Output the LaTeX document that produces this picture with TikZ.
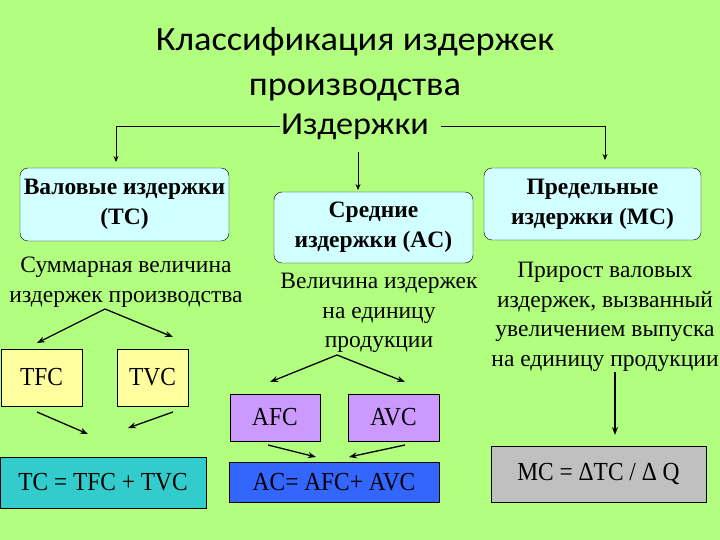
\documentclass[tikz,border=0pt]{standalone}
\usepackage{fontspec}
\setmainfont{Liberation Serif}
\newfontfamily\headfont[FakeStretch=1.07]{Carlito}
\newfontfamily\narrowserif[FakeStretch=0.9]{Liberation Serif}
\usetikzlibrary{arrows.meta}

\definecolor{bggreen}{RGB}{178,255,128}
\definecolor{kindcyan}{RGB}{210,255,255}
\definecolor{partyellow}{RGB}{255,255,160}
\definecolor{partviolet}{RGB}{204,153,255}
\definecolor{sumteal}{RGB}{51,204,204}
\definecolor{sumblue}{RGB}{51,102,255}
\definecolor{sumgray}{RGB}{192,192,192}

\tikzset{
    kindbox/.style={draw, rounded corners=8pt, fill=kindcyan, align=center,
        font=\bfseries\fontsize{23.5}{30}\selectfont, inner sep=0pt},
    descr/.style={align=center, font=\fontsize{23.5}{29.5}\selectfont, inner sep=0pt},
    partbox/.style={draw, align=center, font=\narrowserif\fontsize{26}{30}\selectfont, inner sep=0pt},
    feed/.style={-{Stealth[length=8pt,width=6pt]}, line width=1.3pt},
    branch/.style={-{Stealth[length=6pt,width=5pt]}, line width=0.8pt}
}

\begin{document}
\begin{tikzpicture}[x=1pt, y=-1pt]

    % Background
    \fill[bggreen] (0,0) rectangle (720,540);
    \useasboundingbox (0,0) rectangle (720,540);

    % Title
    \node[align=center, font=\headfont\fontsize{34}{45}\selectfont] (title) at (355,64)
      {Классификация издержек\\производства};
    \node[font=\headfont\fontsize{32}{36}\selectfont, inner sep=0pt] (costs) at (355,127) {Издержки};

    % Three kinds of costs
    \node[kindbox, minimum width=209pt, minimum height=73pt] (total) at (124.5,204.5)
      {Валовые издержки\\(TC)};
    \node[kindbox, minimum width=199pt, minimum height=71pt] (avg) at (373.5,227.5)
      {Средние\\издержки (AC)};
    \node[kindbox, minimum width=217pt, minimum height=72pt] (marg) at (592.5,204)
      {Предельные\\издержки (MC)};

    % Branches from the heading
    \coordinate (totaltop) at (116,162);
    \coordinate (costsout) at (358,152);
    \coordinate (avgtop) at (358,190);
    \coordinate (margtop) at (605,160);
    \draw[branch] ([xshift=-1pt,yshift=1pt]costs.west) -| (totaltop);
    \draw[branch] ([xshift=12pt,yshift=1pt]costs.east) -| (margtop);
    \draw[branch] (costsout) -- (avgtop);

    % Descriptions
    \node[descr] (totaldescr) at (126,282) {Суммарная величина\\издержек производства};
    \node[descr] (avgdescr) at (379,313) {Величина издержек\\на единицу\\продукции};
    \node[descr] (margdescr) at (605,317)
      {Прирост валовых\\издержек, вызванный\\увеличением выпуска\\на единицу продукции};

    % Parts of total costs
    \node[partbox, fill=partyellow, minimum width=81pt, minimum height=57pt] (tfc) at (41.5,377.5) {TFC};
    \node[partbox, fill=partyellow, minimum width=71pt, minimum height=57pt] (tvc) at (152.5,377.5) {TVC};
    \node[partbox, fill=sumteal, minimum width=206pt, minimum height=51pt] (tc) at (103,482.5)
      {TC = TFC + TVC};

    \coordinate (totalsplit) at (105,309);
    \coordinate (tfcin) at (37,343);
    \coordinate (tvcin) at (173,337);
    \coordinate (tfcout) at (37,412);
    \coordinate (tvcout) at (173,412);
    \coordinate (tcleft) at (88,434);
    \coordinate (tcright) at (128,428);
    \draw[feed] (totalsplit) -- (tfcin);
    \draw[feed] (totalsplit) -- (tvcin);
    \draw[feed] (tfcout) -- (tcleft);
    \draw[feed] (tvcout) -- (tcright);

    % Parts of average costs
    \node[partbox, fill=partviolet, minimum width=90pt, minimum height=47pt] (afc) at (275,417.5) {AFC};
    \node[partbox, fill=partviolet, minimum width=91pt, minimum height=47pt] (avc) at (393.5,417.5) {AVC};
    \node[partbox, fill=sumblue, minimum width=210pt, minimum height=40pt] (ac) at (334,482)
      {AC= AFC+ AVC};

    \coordinate (avgsplit) at (337,355);
    \coordinate (afcin) at (270,382);
    \coordinate (avcin) at (405,382);
    \coordinate (afcout) at (268,445);
    \coordinate (avcout) at (405,445);
    \coordinate (acleft) at (316,457);
    \coordinate (acright) at (349,457);
    \draw[feed] (avgsplit) -- (afcin);
    \draw[feed] (avgsplit) -- (avcin);
    \draw[feed] (afcout) -- (acleft);
    \draw[feed] (avcout) -- (acright);

    % Marginal costs
    \node[partbox, fill=sumgray, minimum width=215pt, minimum height=56pt] (mc) at (598.5,474)
      {MC = ΔTC / Δ Q};
    \coordinate (margout) at (615,372);
    \coordinate (mcin) at (615,435);
    \draw[feed] (margout) -- (mcin);

\end{tikzpicture}
\end{document}
